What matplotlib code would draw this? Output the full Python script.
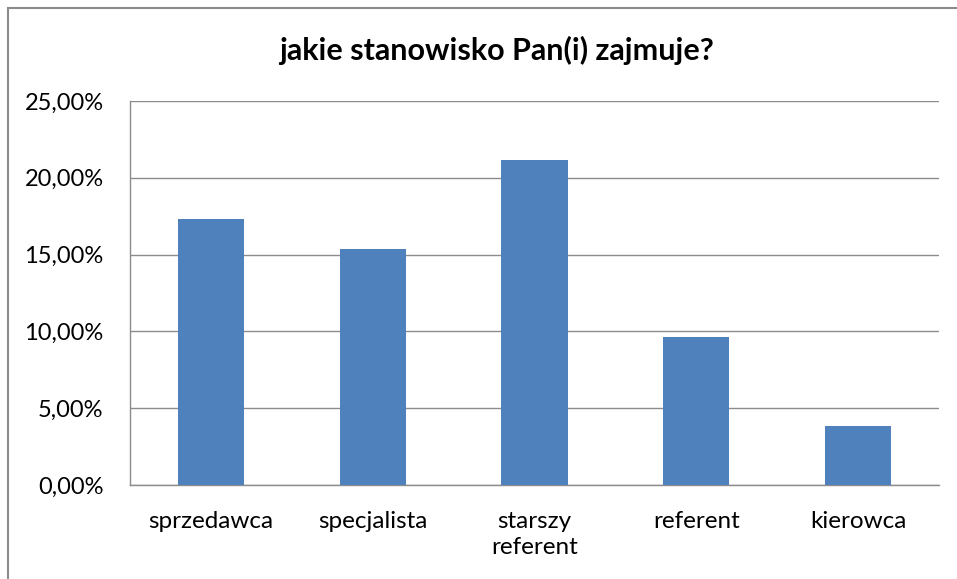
import matplotlib
matplotlib.use('Agg')
import matplotlib.pyplot as plt
from matplotlib.patches import Rectangle
from matplotlib.ticker import FuncFormatter

categories = ['sprzedawca', 'specjalista', 'starszy\nreferent', 'referent', 'kierowca']
values = [17.31, 15.38, 21.15, 9.62, 3.85]
y_ticks = [0, 5, 10, 15, 20, 25]

plt.rcParams['font.family'] = ['Lato', 'DejaVu Sans']

W, H = 957, 579
fig = plt.figure(figsize=(W / 100, H / 100), dpi=100)
ax = fig.add_axes([130 / W, (H - 485) / H, (939 - 130) / W, (485 - 101) / H])

x = range(len(categories))
ax.bar(x, values, width=0.41, color='#4f81bd', zorder=3)

ax.set_xlim(-0.5, len(categories) - 0.5)
ax.set_ylim(0, 25)
ax.set_yticks(y_ticks)
ax.yaxis.set_major_formatter(FuncFormatter(lambda v, p: f'{v:.2f}%'.replace('.', ',')))
ax.set_xticks(list(x))
ax.set_xticklabels(categories, fontsize=17.5, linespacing=1.3)
ax.tick_params(axis='y', labelsize=17, length=0, pad=19)
ax.tick_params(axis='x', length=0, pad=19)
ax.grid(axis='y', color='#8c8c8c', linewidth=1, zorder=0)

for side in ['top', 'right']:
    ax.spines[side].set_visible(False)
for side in ['left', 'bottom']:
    ax.spines[side].set_color('#8c8c8c')
    ax.spines[side].set_linewidth(1)

fig.text(496 / W, 1 - 50 / H, 'jakie stanowisko Pan(i) zajmuje?', ha='center', va='center',
         fontsize=22, fontweight='bold')

# outer chart border
fig.patches.append(Rectangle((8 / W, -0.05), 1.1, (H - 8) / H + 0.05, transform=fig.transFigure,
                             fill=False, edgecolor='#8c8c8c', linewidth=1.5))

fig.savefig('out.png', dpi=100)
